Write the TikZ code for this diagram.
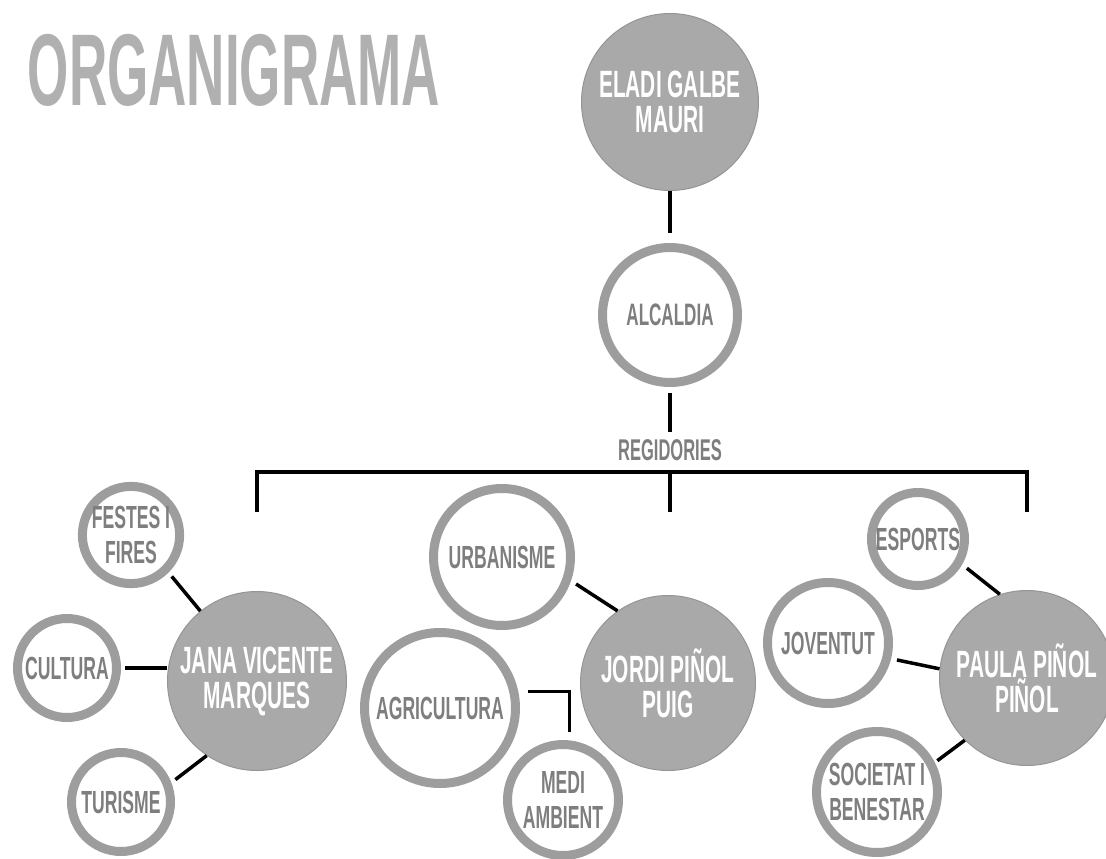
\documentclass[tikz,border=0pt]{standalone}
\usepackage{fontspec}
\usepackage{tikz}
\usetikzlibrary{positioning}

\newfontfamily\condfont[FakeStretch=0.55]{Liberation Sans}
\newfontfamily\headfont[FakeStretch=0.52]{Liberation Sans}
\definecolor{ringgray}{HTML}{9D9D9D}
\definecolor{fillgray}{HTML}{A9A9A9}
\definecolor{edgegray}{HTML}{959595}
\definecolor{labelgray}{HTML}{7E7E7E}
\definecolor{titlegray}{HTML}{B0B0B0}

\begin{document}
\begin{tikzpicture}[
        x=1pt, y=-1pt,
        every node/.style={align=center, inner sep=0pt},
        every path/.style={line width=3.5pt},
        person/.style={circle, fill=fillgray, draw=edgegray, line width=1pt, text=white,
            font=\condfont\bfseries\fontsize{38}{35}\selectfont},
        area/.style={circle, draw=ringgray, line width=9pt, fill=white, text=labelgray,
            font=\condfont\bfseries\fontsize{32}{35}\selectfont},
        heading/.style={text=titlegray, font=\headfont\bfseries\fontsize{102}{102}\selectfont},
        tag/.style={text=labelgray, font=\condfont\bfseries\fontsize{30}{34}\selectfont}
    ]
    \useasboundingbox (0,0) rectangle (1106,859);

    % Nodes
    \node[heading, anchor=base west] (title) at (26,105) {ORGANIGRAMA};

    \node[person, minimum size=177pt] (eladi) at (670,102) {ELADI GALBE\\MAURI};
    \node[area, minimum size=135pt, font=\condfont\bfseries\fontsize{31}{34}\selectfont] (alcaldia) at (670,315) {ALCALDIA};
    \node[tag] (regidories) at (670,450) {REGIDORIES};

    \node[person, minimum size=179pt] (jana) at (257,681) {JANA VICENTE\\MARQUES};
    \node[area, minimum size=97pt] (festes) at (131,535) {FESTES I\\FIRES};
    \node[area, minimum size=99pt] (cultura) at (67,668) {CULTURA};
    \node[area, minimum size=99pt] (turisme) at (121,802) {TURISME};

    \node[person, minimum size=175pt] (jordi) at (668,683) {JORDI PIÑOL\\PUIG};
    \node[area, minimum size=137pt] (urbanisme) at (502,557) {URBANISME};
    \node[area, minimum size=151pt] (agricultura) at (440,708) {AGRICULTURA};
    \node[area, minimum size=111pt] (medi) at (563,800) {MEDI\\AMBIENT};

    \node[person, minimum size=175pt] (paula) at (1027,678) {PAULA PIÑOL\\PIÑOL};
    \node[area, minimum size=93pt] (esports) at (918,539) {ESPORTS};
    \node[area, minimum size=121pt] (joventut) at (828,643) {JOVENTUT};
    \node[area, minimum size=121pt] (societat) at (877,792) {SOCIETAT I\\BENESTAR};

    \coordinate (barL) at (257,472);
    \coordinate (barM) at (670,472);
    \coordinate (barR) at (1027,472);
    \coordinate (dropL) at (257,512);
    \coordinate (dropM) at (670,512);
    \coordinate (dropR) at (1027,512);

    % Edges
    \draw[shorten >=10pt] (eladi) -- (alcaldia);
    \draw[shorten <=6pt, shorten >=6pt] (alcaldia) -- (regidories);
    \draw (dropL) -- (barL) -- (barR) -- (dropR);
    \draw (barM) -- (dropM);

    \draw[shorten <=5pt] (festes.-45) -- (jana.129);
    \draw[shorten <=4pt] (cultura.east) -- (cultura.east -| jana.west);
    \draw[shorten <=5pt] (turisme.21) -- (jana.236);

    \draw[shorten <=6pt] (urbanisme.-19) -- (jordi.125);
    \draw[shorten <=10pt, shorten >=8pt] (agricultura.12) -| (medi.84);

    \draw[shorten <=6pt] (esports.-30) -- (paula.108);
    \draw[shorten <=6pt] (joventut.-14) -- (paula.174);
    \draw[shorten <=3pt] (societat.27) -- (paula.225);

\end{tikzpicture}
\end{document}
